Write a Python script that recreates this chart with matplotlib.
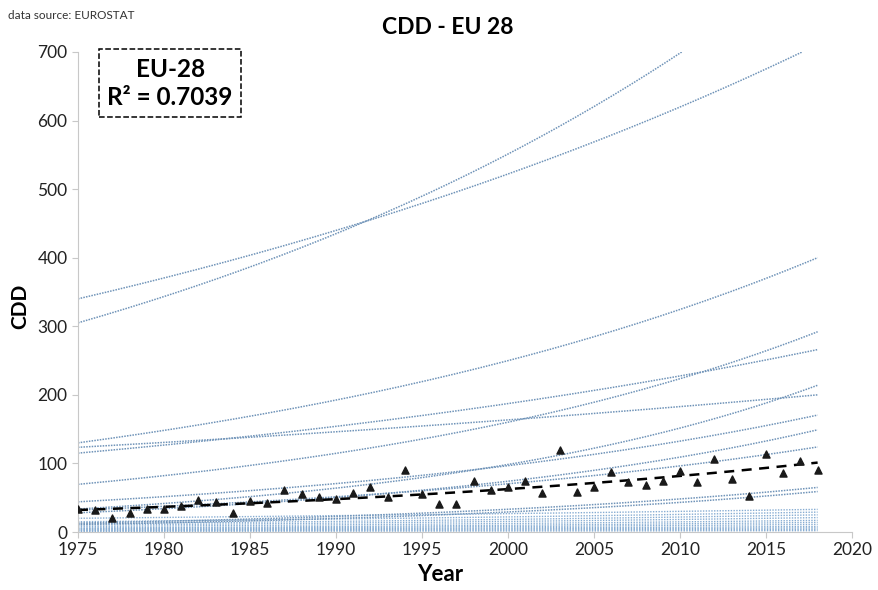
import numpy as np
import matplotlib
matplotlib.use("Agg")
import matplotlib.pyplot as plt

plt.rcParams['font.family'] = ['Lato', 'DejaVu Sans']

# EU-28 cooling degree days, yearly values
years = list(range(1975, 2019))
cdd = [33.5, 32, 21, 27, 33.5, 33.5, 38, 46.6, 44, 27, 45.6, 43, 61, 55, 51.5, 48,
       57, 65, 50.5, 91, 55, 41, 41, 74, 61, 66, 74, 57, 119.5, 59, 65,
       88, 72.5, 68.5, 75, 89, 72.5, 107, 78, 53, 113.7, 86.5, 103.5, 91]

# exponential trend lines of the member states: value in 1975, value at end year
trend_start = [340, 305, 130, 123.5, 115, 69.5, 44, 33.5, 32, 28, 13, 11]
trend_end = [700, 700, 400, 200, 266, 292, 170.5, 214, 124, 149, 65, 59]
trend_end_year = [2017.1, 2010.1, 2018, 2018, 2018, 2018, 2018, 2018, 2018, 2018, 2018, 2018]

# low-CDD countries (the dense band near zero)
band_start = [1, 2, 3, 4, 5, 6, 8, 10, 12, 15, 20]
band_end = [2, 4, 6, 8, 11, 14, 17, 21, 25, 29, 33]

fig = plt.figure(figsize=(8.79, 5.90), dpi=100)
ax = fig.add_axes([0.0887, 0.0983, 0.8806, 0.8136])


def exp_curve(s, e, end_year):
    x = np.linspace(1975, end_year, 200)
    return x, s * (e / s) ** ((x - 1975) / (end_year - 1975))


for s, e in zip(band_start, band_end):
    x, y = exp_curve(s, e, 2018)
    ax.plot(x, y, color='#86acd2', lw=1.0, linestyle=(0, (1, 1)), zorder=1)

for s, e, ey in zip(trend_start, trend_end, trend_end_year):
    x, y = exp_curve(s, e, ey)
    ax.plot(x, y, color='#6f93b8', lw=1.1, linestyle=(0, (1, 0.8)), zorder=2)

# exponential trend of EU-28
b, a = np.polyfit(years, np.log(cdd), 1)
xt = np.linspace(1975, 2018, 100)
ax.plot(xt, np.exp(a + b * xt), color='black', lw=1.8, linestyle=(0, (4, 3)), zorder=3)

ax.scatter(years, cdd, marker='^', color='#1a1a1a', s=26, zorder=4)

ax.set_xlim(1975, 2020)
ax.set_ylim(0, 700)
ax.set_xticks(range(1975, 2021, 5))
ax.set_yticks(range(0, 701, 100))

for side in ['top', 'right']:
    ax.spines[side].set_visible(False)
for side in ['left', 'bottom']:
    ax.spines[side].set_color('#c8c8c8')
ax.tick_params(colors='#c8c8c8', labelcolor='#222222', labelsize=12.5, length=4)

ax.set_xlabel('Year', fontsize=16, fontweight='bold')
ax.xaxis.set_label_coords(0.468, -0.067)
ax.set_ylabel('CDD', fontsize=15, fontweight='bold')
ax.yaxis.set_label_coords(-0.062, 0.47)
ax.set_title('CDD - EU 28', fontsize=16.5, fontweight='bold', x=0.478, y=1.02)
fig.text(0.009, 0.967, 'data source: EUROSTAT', fontsize=8.5, color='#333333')

ax.text(0.119, 0.935, 'EU-28\nR² = 0.7039', transform=ax.transAxes, ha='center', va='center',
        fontsize=17.5, fontweight='bold', linespacing=1.25,
        bbox=dict(boxstyle='square,pad=0.35', facecolor='white', edgecolor='black',
                  linestyle='--', linewidth=1.1))

plt.savefig('out.png', dpi=100)
